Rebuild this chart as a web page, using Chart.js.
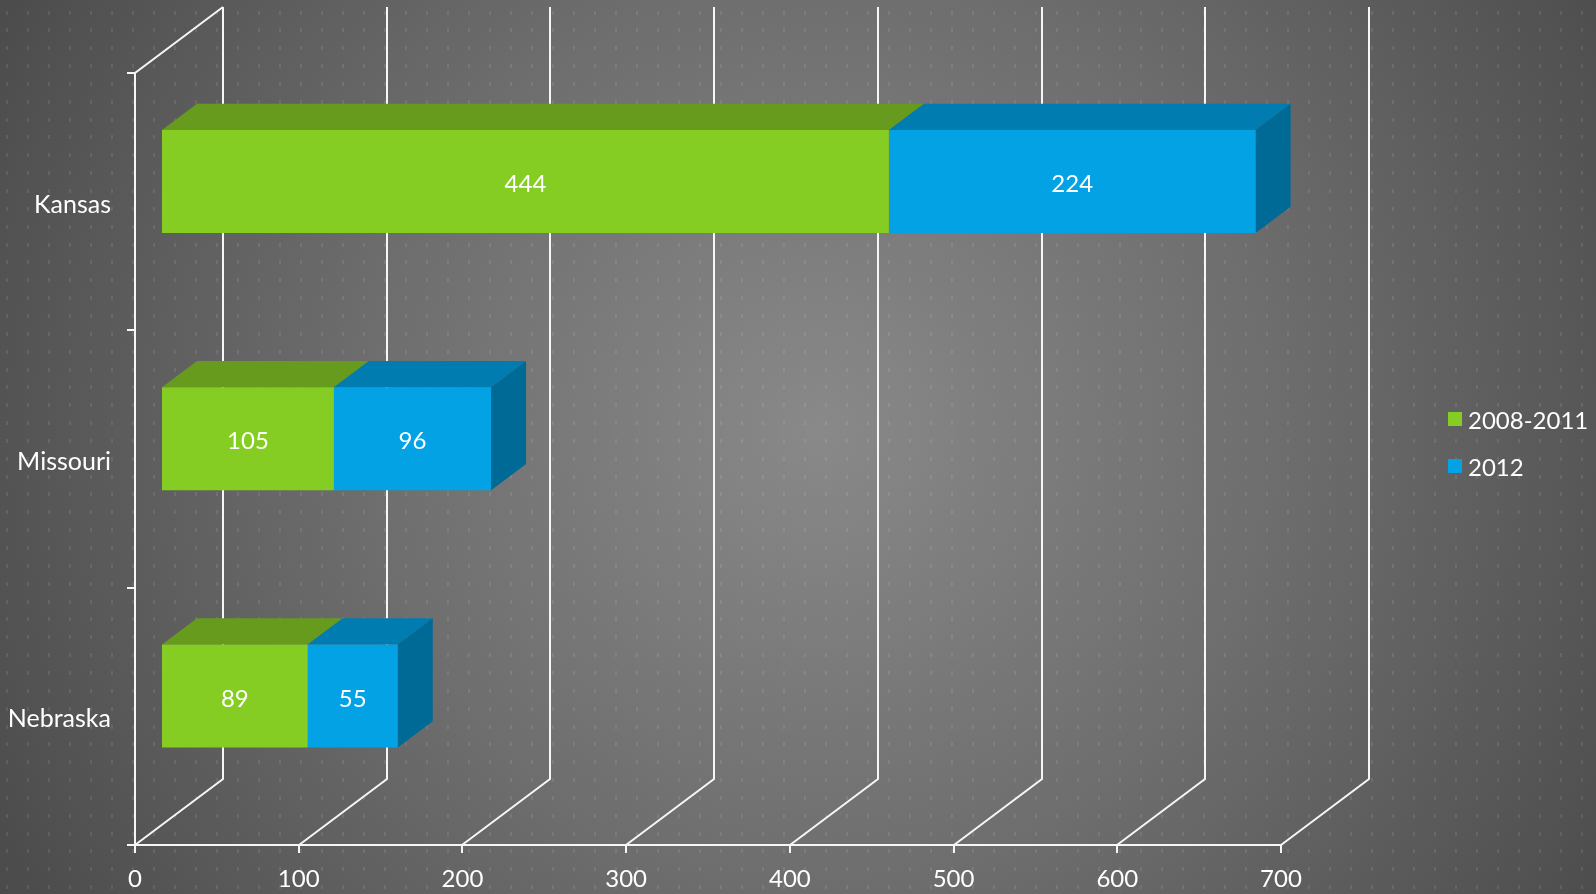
<!DOCTYPE html>
<html>
<head>
<meta charset="utf-8">
<script src="https://cdn.jsdelivr.net/npm/chart.js@4.4.1/dist/chart.umd.min.js"></script>
<style>
html, body { margin: 0; padding: 0; background: #4a4a4a; overflow: hidden; }
#chart { display: block; }
</style>
</head>
<body>
<canvas id="chart" width="1596" height="894"></canvas>
<script>
// data
var states = ["Kansas", "Missouri", "Nebraska"];
var seriesNames = ["2008-2011", "2012"];
var values2008to2011 = [444, 105, 89];
var values2012 = [224, 96, 55];
var axisMax = 700;
var axisStep = 100;

// look
var fontFamily = "Lato, 'Open Sans', sans-serif";
var lineColor = "#f6f6f6";
var frontColors = ["#86cd23", "#02a2e5"];
var topColors = ["#679b1d", "#017cb0"];
var sideColors = ["#5a8a18", "#006a96"];
var wallDepth = { x: 88, y: 66 };   // floor / back wall offset
var barShift = 27 / 88;              // where the bar front sits inside the depth
var barDepth = 35 / 88;              // how deep the bar box is

var scene3d = {
    id: "scene3d",
    beforeDraw: function(chart){
        var ctx = chart.ctx;
        var w = chart.width, h = chart.height;
        ctx.save();
        var g = ctx.createRadialGradient(820, 430, 0, 820, 430, 1000);
        g.addColorStop(0, "#898989");
        g.addColorStop(0.45, "#6e6e6e");
        g.addColorStop(1, "#464646");
        ctx.fillStyle = g;
        ctx.fillRect(0, 0, w, h);
        // dotted texture
        ctx.fillStyle = "rgba(255,255,255,0.09)";
        for (var y = 10.5; y < h; y += 17.85) {
            for (var x = 5.5; x < w; x += 21) {
                ctx.fillRect(Math.round(x), Math.round(y), 2, 4);
            }
        }
        ctx.restore();
    },
    beforeDatasetsDraw: function(chart){
        var ctx = chart.ctx;
        var area = chart.chartArea;
        var xs = chart.scales.x;
        var dx = wallDepth.x, dy = wallDepth.y;

        ctx.save();
        ctx.strokeStyle = lineColor;
        ctx.lineWidth = 2;
        ctx.lineCap = "butt";
        ctx.lineJoin = "miter";
        ctx.beginPath();
        var bottom = Math.round(area.bottom), topY = Math.round(area.top);
        for (var v = 0; v <= axisMax; v += axisStep) {
            var px = Math.round(xs.getPixelForValue(v));
            // floor diagonal + back wall line
            ctx.moveTo(px, bottom);
            ctx.lineTo(px + dx, bottom - dy);
            ctx.lineTo(px + dx, topY - dy);
            // tick below the floor
            ctx.moveTo(px, bottom);
            ctx.lineTo(px, bottom + 8);
        }
        var left = Math.round(area.left);
        // left wall
        ctx.moveTo(left, bottom);
        ctx.lineTo(left, topY);
        ctx.lineTo(left + dx, topY - dy);
        // front floor edge
        ctx.moveTo(left - 8, bottom);
        ctx.lineTo(Math.round(xs.getPixelForValue(axisMax)), bottom);
        // category ticks
        var band = (area.bottom - area.top) / states.length;
        for (var k = 0; k <= states.length; k++) {
            var yb = Math.round(area.top + band * k);
            ctx.moveTo(left - 8, yb);
            ctx.lineTo(left, yb);
        }
        ctx.stroke();

        // bar boxes: shifted into the depth, top and side faces
        var sx = dx * barShift, sy = dy * barShift;
        var bx = dx * barDepth, by = dy * barDepth;
        ctx.translate(sx, -sy);
        var lastDs = chart.data.datasets.length - 1;
        chart.data.datasets.forEach(function(ds, di){
            var meta = chart.getDatasetMeta(di);
            meta.data.forEach(function(bar){
                var p = bar.getProps(["x", "y", "base", "height"], true);
                var top = p.y - p.height / 2, bot = p.y + p.height / 2;
                ctx.fillStyle = topColors[di];
                ctx.beginPath();
                ctx.moveTo(p.base, top);
                ctx.lineTo(p.x, top);
                ctx.lineTo(p.x + bx, top - by);
                ctx.lineTo(p.base + bx, top - by);
                ctx.closePath();
                ctx.fill();
                if (di === lastDs) {
                    ctx.fillStyle = sideColors[di];
                    ctx.beginPath();
                    ctx.moveTo(p.x, top);
                    ctx.lineTo(p.x + bx, top - by);
                    ctx.lineTo(p.x + bx, bot - by);
                    ctx.lineTo(p.x, bot);
                    ctx.closePath();
                    ctx.fill();
                }
            });
        });
        // keep the shift for the front faces drawn by Chart.js
    },
    afterDatasetsDraw: function(chart){
        var ctx = chart.ctx;
        // value labels on the front faces (still shifted)
        ctx.font = "24px " + fontFamily;
        ctx.fillStyle = "#ffffff";
        ctx.textAlign = "center";
        ctx.textBaseline = "middle";
        chart.data.datasets.forEach(function(ds, di){
            chart.getDatasetMeta(di).data.forEach(function(bar, i){
                var p = bar.getProps(["x", "y", "base"], true);
                ctx.fillText(String(ds.data[i]), (p.x + p.base) / 2, p.y + 3);
            });
        });
        ctx.restore();

        // legend
        ctx.save();
        ctx.font = "24px " + fontFamily;
        ctx.textAlign = "left";
        ctx.textBaseline = "middle";
        chart.data.datasets.forEach(function(ds, di){
            var ly = 419 + di * 47;
            ctx.fillStyle = ds.backgroundColor;
            ctx.fillRect(1448, ly - 7, 14, 14);
            ctx.fillStyle = "#ffffff";
            ctx.fillText(ds.label, 1468, ly + 2);
        });
        ctx.restore();
    }
};

var tickFont = { family: fontFamily, size: 24 };

new Chart(document.getElementById("chart"), {
    type: "bar",
    data: {
        labels: states,
        datasets: [{
            label: seriesNames[0],
            data: values2008to2011,
            backgroundColor: frontColors[0],
            borderWidth: 0,
            clip: false
        }, {
            label: seriesNames[1],
            data: values2012,
            backgroundColor: frontColors[1],
            borderWidth: 0,
            clip: false
        }]
    },
    options: {
        indexAxis: "y",
        responsive: false,
        animation: false,
        devicePixelRatio: 1,
        events: [],
        barPercentage: 0.4,
        categoryPercentage: 1,
        layout: { padding: { top: 73, right: 315, left: 0, bottom: 0 } },
        plugins: {
            legend: { display: false },
            tooltip: { enabled: false }
        },
        scales: {
            x: {
                stacked: true,
                min: 0,
                max: axisMax,
                ticks: { stepSize: axisStep, color: "#ffffff", font: tickFont, padding: 20, maxRotation: 0 },
                grid: { display: false, drawTicks: false },
                border: { display: false },
                afterFit: function(s){ s.height = 49; }
            },
            y: {
                stacked: true,
                ticks: { color: "#ffffff", font: { family: fontFamily, size: 25 }, padding: 24, labelOffset: 3 },
                grid: { display: false, drawTicks: false },
                border: { display: false },
                afterFit: function(s){ s.width = 135; }
            }
        }
    },
    plugins: [scene3d]
});
</script>
</body>
</html>
